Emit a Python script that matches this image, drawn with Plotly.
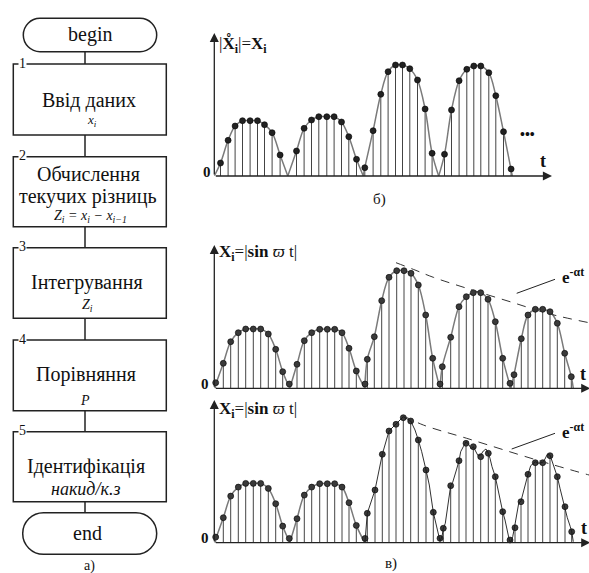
import plotly.graph_objects as go

W, H = 589, 573

# ---------------- data ----------------
# panel б : samples of |x_i| (t in sample-time units, value in amplitude units)
b_t = [[6.2, 13.8, 20.8, 28.2, 35.8, 43.2, 50.2, 57.8, 65.8],
       [82.2, 89.8, 97.2, 104.5, 112.5, 119.8, 127.2, 134.5, 142.2],
       [150.5, 158.8, 166.5, 173.8, 181.2, 188.2, 195.5, 203.2, 210.8, 217.8],
       [230.2, 237.2, 244.8, 252.5, 259.5, 266.5, 274.5, 281.5, 289.2, 296.8]]
b_x = [[13, 35.7, 50, 55.3, 55.3, 55.3, 51.3, 43.3, 21],
       [25, 47.7, 56, 59.3, 59.3, 59.3, 54, 39.3, 16.7],
       [8.3, 45.3, 81.7, 104.3, 111, 111, 107.3, 96, 67, 22.7],
       [21.7, 66, 95.3, 106.7, 110, 110, 103.3, 80.3, 44.3, 7]]
b_zeros = [0, 73.5, 149, 224.4, 298]

# panel в (upper): X_i = |sin wt| with decaying amplitude
v_t = [[1.4, 9, 16.4, 24, 31.4, 39, 46.4, 54, 61.4, 68.4, 75],
       [82.7, 90, 97.4, 105.4, 113, 120.4, 127.7, 134.7, 142, 150.7],
       [153, 160, 167.4, 174.7, 182.4, 189.7, 196.7, 204, 211.4, 218.4, 225.7],
       [228, 236.4, 244.7, 252, 259, 266.4, 273.7, 281, 288.4, 295.7],
       [299.7, 307, 313.7, 321, 328.4, 335.7, 343, 350.4, 357]]
v_x = [[5.6, 25, 46.6, 55.6, 59.3, 59.3, 59.3, 54.3, 39, 16.6, 4.3],
       [24, 47.6, 55.6, 59, 59, 59, 55.6, 40, 17.3, 4.3],
       [29, 51.6, 87.6, 111, 117.6, 117.6, 115, 103.3, 73.3, 30, 4.3],
       [21.6, 51, 81.6, 91.6, 95.6, 95.6, 89, 66.6, 30, 5],
       [13.6, 49.6, 73.3, 79, 79, 76.6, 65, 35, 11.6]]
v_zeros = [0, 75.5, 150.5, 225.7, 296.5, 359]
env1_t = [181.7, 200.7, 219, 255.7, 295.7, 335.7, 374.7]
env1_x = [125.6, 118.3, 111, 99, 86.6, 74.3, 65.6]

# panel в (lower): same first two arches, distorted later arches
w_t = [[1.4, 9, 16.4, 24, 31.4, 39, 46.4, 54, 61.4, 68.4, 75],
       [82.7, 90, 97.4, 105.4, 113, 120.4, 127.7, 134.7, 142, 150.7],
       [153, 160.7, 168, 174.7, 181.7, 189, 196.4, 204, 211.7, 219, 225.7],
       [229, 236.4, 244.7, 251.7, 259, 266.4, 274, 281, 288.4, 295.7],
       [300.7, 306.7, 313.7, 321, 328.4, 335.7, 343, 350.7, 357.4]]
w_x = [[5.6, 25, 46.6, 55.6, 59.3, 59.3, 59.3, 54.3, 39, 16.6, 4.3],
       [24, 47.6, 55.6, 59, 59, 59, 55.6, 40, 17.3, 4.3],
       [29.4, 52.7, 88.4, 111.7, 118.4, 125, 121.7, 102.7, 72.7, 30.4, 4.4],
       [14.4, 57, 82, 99.4, 96, 86, 89.4, 66, 31, 2.7],
       [15, 41, 68.4, 80, 80, 87, 66, 36, 11]]
w_zeros = [0, 75.5, 150.5]
# distorted (measured) waveform of arches 3..5
noisy_t = [150.7, 153, 160.7, 168, 174.7, 181.7, 189, 196.4, 200.7, 204, 207.4, 211.7,
           215, 219, 222.4, 225.7, 227.7, 229, 231, 233, 235, 236.4, 238.4, 240.4,
           242.4, 244.7, 246.4, 249, 251.7, 254.4, 257, 259, 261, 263.7, 266.4, 269,
           271.7, 274, 275.7, 277.7, 281, 283, 285.7, 288.4, 290.7, 293, 295, 296.4,
           298.4, 299.7, 301, 303, 304.4, 306.7, 309, 311.7, 313.7, 316.4, 319, 321,
           324.4, 328.4, 330.7, 333, 335.7, 337.4, 339, 340.7, 343, 345.7, 347.7,
           350.7, 353, 356, 357.4, 359]
noisy_x = [1, 29.4, 52.7, 88.4, 111.7, 118.4, 126, 121.7, 112.7, 102.7, 91, 72.7,
           57.7, 30.4, 16, 1.7, 6, 14.4, 19.4, 32.7, 47.7, 57, 60.4, 66,
           73.7, 82, 91, 96, 101, 98.4, 93.7, 96, 92.7, 87, 87.7, 91.7,
           93.7, 89.4, 84.4, 76, 66, 56, 42.7, 31, 22.7, 11, 2.7, 0.4,
           6, 12.7, 21, 32.7, 39.4, 41.7, 51, 61.7, 68.4, 77, 79.4, 81,
           79.4, 80.4, 83.7, 88.4, 87.7, 82.7, 77.7, 73.7, 66, 54.4, 46,
           36, 25, 16, 11, 1]
env2_t = [189, 209, 252.4, 322.4, 374.7]
env2_x = [127, 117.7, 104.4, 82.7, 67.7]

SERIF = "Liberation Serif, Times New Roman, DejaVu Serif, serif"
INK = "#222222"
GRAY = "#7a7a7a"

fig = go.Figure()


def stems(ts, xs):
    sx, sy = [], []
    for tt, vv in zip(ts, xs):
        for a, b in zip(tt, vv):
            sx += [a, a, None]
            sy += [0, b, None]
    return sx, sy


def curve(ts, xs, zeros):
    cx, cy = [], []
    for k, (tt, vv) in enumerate(zip(ts, xs)):
        if k + 1 >= len(zeros):
            break
        cx += [zeros[k]]
        cy += [0]
        for a, b in zip(tt, vv):
            if b >= 8 and zeros[k] < a < zeros[k + 1]:
                cx.append(a)
                cy.append(b)
        cx += [zeros[k + 1], None]
        cy += [0, None]
    return cx, cy


def flat(ts):
    return [a for tt in ts for a in tt]


panels = [
    ("x2", "y2", b_t, b_x, b_zeros, INK, 6),
    ("x3", "y3", v_t, v_x, v_zeros, "#3a3a3a", 6),
    ("x4", "y4", w_t, w_x, w_zeros, "#3a3a3a", 6),
]
for xa, ya, tt, vv, zz, mc, ms in panels:
    sx, sy = stems(tt, vv)
    fig.add_trace(go.Scatter(x=sx, y=sy, mode="lines", xaxis=xa, yaxis=ya,
                             line=dict(color="#444444", width=1), hoverinfo="skip"))
    cx, cy = curve(tt, vv, zz)
    fig.add_trace(go.Scatter(x=cx, y=cy, mode="lines", xaxis=xa, yaxis=ya,
                             line=dict(color=GRAY, width=1.5, shape="spline", smoothing=1),
                             connectgaps=False, hoverinfo="skip"))
    fig.add_trace(go.Scatter(x=flat(tt), y=flat(vv), mode="markers", xaxis=xa, yaxis=ya,
                             marker=dict(color=mc, size=ms, line=dict(color="#000", width=0.6)),
                             cliponaxis=False, hoverinfo="skip"))

# distorted waveform on the lower panel
fig.add_trace(go.Scatter(x=noisy_t, y=noisy_x, mode="lines", xaxis="x4", yaxis="y4",
                         line=dict(color="#1a1a1a", width=0.9), hoverinfo="skip"))
# envelopes
fig.add_trace(go.Scatter(x=env1_t, y=env1_x, mode="lines", xaxis="x3", yaxis="y3",
                         line=dict(color="#333", width=1, dash="9px,7px", shape="spline"),
                         hoverinfo="skip", cliponaxis=False))
fig.add_trace(go.Scatter(x=env2_t, y=env2_x, mode="lines", xaxis="x4", yaxis="y4",
                         line=dict(color="#333", width=1, dash="9px,7px", shape="spline"),
                         hoverinfo="skip", cliponaxis=False))

# ---------------- axes ----------------
X0 = 214.3


def ax_dom(x0, x1):
    return [x0 / W, x1 / W]


def ay_dom(ybot, ytop):
    return [1 - ybot / H, 1 - ytop / H]


hidden = dict(visible=False, showgrid=False, zeroline=False, fixedrange=True)
layout_axes = dict(
    xaxis2=dict(hidden, domain=ax_dom(X0, X0 + 345.7), range=[0, 345.7], anchor="y2"),
    yaxis2=dict(hidden, domain=ay_dom(176, 30), range=[0, 146], anchor="x2"),
    xaxis3=dict(hidden, domain=ax_dom(X0, W), range=[0, W - X0], anchor="y3"),
    yaxis3=dict(hidden, domain=ay_dom(388.3, 240), range=[0, 148.3], anchor="x3"),
    xaxis4=dict(hidden, domain=ax_dom(X0, W), range=[0, W - X0], anchor="y4"),
    yaxis4=dict(hidden, domain=ay_dom(542.7, 395), range=[0, 147.7], anchor="x4"),
)

annotations = []
# axis arrows
for xa, ya, tend, htop in [("x2", "y2", 337.7, 143), ("x3", "y3", 376, 143.3), ("x4", "y4", 376, 142.7)]:
    annotations.append(dict(x=tend, y=0, ax=0, ay=0, xref=xa, yref=ya, axref=xa, ayref=ya,
                            text="", showarrow=True, arrowhead=2, arrowsize=1.4,
                            arrowwidth=1.3, arrowcolor=INK, standoff=0))
    annotations.append(dict(x=0, y=htop, ax=0, ay=0, xref=xa, yref=ya, axref=xa, ayref=ya,
                            text="", showarrow=True, arrowhead=2, arrowsize=1.4,
                            arrowwidth=1.3, arrowcolor=INK, standoff=0))


def P(px, py):
    return px / W, 1 - py / H


def txt(s, px, py, size=20, anchor="center", bg=None, italic=False):
    x, y = P(px, py)
    if italic:
        s = "<i>" + s + "</i>"
    d = dict(x=x, y=y, xref="paper", yref="paper", text=s, showarrow=False,
             xanchor=anchor, yanchor="middle",
             font=dict(family=SERIF, size=size, color="#111"))
    if bg:
        d.update(bgcolor=bg, borderpad=0)
    annotations.append(d)


# flowchart texts
txt("begin", 90, 35)
txt("Ввід даних", 89, 100)
txt("x<sub>i</sub>", 92, 120, size=13, italic=True)
txt("Обчислення", 88, 174)
txt("текучих різниць", 88, 196)
txt("Z<sub>i</sub> = x<sub>i</sub> − x<sub>i−1</sub>", 90, 217, size=14, italic=True)
txt("Інтегрування", 87, 282)
txt("Z<sub>i</sub>", 87, 305, size=14, italic=True)
txt("Порівняння", 86, 374)
txt("P", 85, 400, size=14, italic=True)
txt("Ідентифікація", 86, 466)
txt("накид/к.з", 85, 489, size=18, italic=True)
txt("end", 87, 533)
txt("а)", 89, 566, size=14)
for n, yy in zip(["1", "2", "3", "4", "5"], [64, 156.7, 247.7, 340, 431.7]):
    txt(n, 22.5, yy - 1, size=14, bg="white")

# plot texts
txt("|<b>X̊<sub>i</sub></b>|=<b>X<sub>i</sub></b>", 217, 44, size=17, anchor="left")
txt("<b>X<sub>i</sub></b>=|<b>sin</b> <i>ϖ</i> t|", 217, 253, size=17, anchor="left")
txt("<b>X<sub>i</sub></b>=|<b>sin</b> <i>ϖ</i> t|", 217, 410, size=17, anchor="left")
txt("<b>0</b>", 206.5, 172, size=15)
txt("<b>0</b>", 205, 384, size=15)
txt("<b>0</b>", 205, 538, size=15)
txt("<b>t</b>", 543, 161, size=18)
txt("<b>t</b>", 583, 374, size=18)
txt("<b>t</b>", 584, 528, size=18)
txt("<b>•••</b>", 527, 134, size=14)
txt("<b>e<sup>-αt</sup></b>", 573, 276, size=17)
txt("<b>e<sup>-αt</sup></b>", 573, 431, size=17)
txt("б)", 379, 199, size=15)
txt("в)", 391, 563, size=15)

# ---------------- shapes ----------------
shapes = []
LINE = dict(color=INK, width=1.5)


def stadium(x0, y0, x1, y1):
    r = (y1 - y0) / 2
    k = 0.5523 * r
    pts = [
        ("M", [(x0 + r, y0)]),
        ("L", [(x1 - r, y0)]),
        ("C", [(x1 - r + k, y0), (x1, y0 + r - k), (x1, y0 + r)]),
        ("C", [(x1, y0 + r + k), (x1 - r + k, y1), (x1 - r, y1)]),
        ("L", [(x0 + r, y1)]),
        ("C", [(x0 + r - k, y1), (x0, y0 + r + k), (x0, y0 + r)]),
        ("C", [(x0, y0 + r - k), (x0 + r - k, y0), (x0 + r, y0)]),
    ]
    s = ""
    for cmd, pp in pts:
        s += cmd + " " + " ".join("%.5f,%.5f" % P(a, b) for a, b in pp) + " "
    return s + "Z"


shapes.append(dict(type="path", xref="paper", yref="paper", path=stadium(23.3, 18.3, 156.7, 51.7), line=LINE))
shapes.append(dict(type="path", xref="paper", yref="paper", path=stadium(22.7, 512.7, 156.7, 554.3), line=LINE))
boxes = [(64, 135), (156.7, 226.7), (247.7, 318.3), (340, 410.7), (431.7, 501.7)]
for yt, yb in boxes:
    xa, ya = P(13.3, yt)
    xb, yb2 = P(166.3, yb)
    shapes.append(dict(type="rect", xref="paper", yref="paper", x0=xa, x1=xb, y0=yb2, y1=ya, line=LINE))
links = [(51.7, 64), (135, 156.7), (226.7, 247.7), (318.3, 340), (410.7, 431.7), (501.7, 512.7)]
for y0, y1 in links:
    a = P(85, y0)
    b = P(85, y1)
    shapes.append(dict(type="line", xref="paper", yref="paper", x0=a[0], y0=a[1], x1=b[0], y1=b[1], line=LINE))

# leader lines of the envelope labels
shapes.append(dict(type="line", xref="x3", yref="y3", x0=302.4, y0=95, x1=340.7, y1=109,
                   line=dict(color=INK, width=1)))
shapes.append(dict(type="line", xref="x4", yref="y4", x0=297.4, y0=93.7, x1=340.7, y1=109.4,
                   line=dict(color=INK, width=1)))

fig.update_layout(
    width=W, height=H, margin=dict(l=0, r=0, t=0, b=0),
    paper_bgcolor="white", plot_bgcolor="rgba(0,0,0,0)",
    showlegend=False, annotations=annotations, shapes=shapes,
    xaxis=dict(hidden, domain=[0, 1], range=[0, W]),
    yaxis=dict(hidden, domain=[0, 1], range=[H, 0]),
    **layout_axes,
)
fig.write_html("out.html", config={"displayModeBar": False},
               post_script="document.body.style.margin='0';document.body.style.padding='0';")
